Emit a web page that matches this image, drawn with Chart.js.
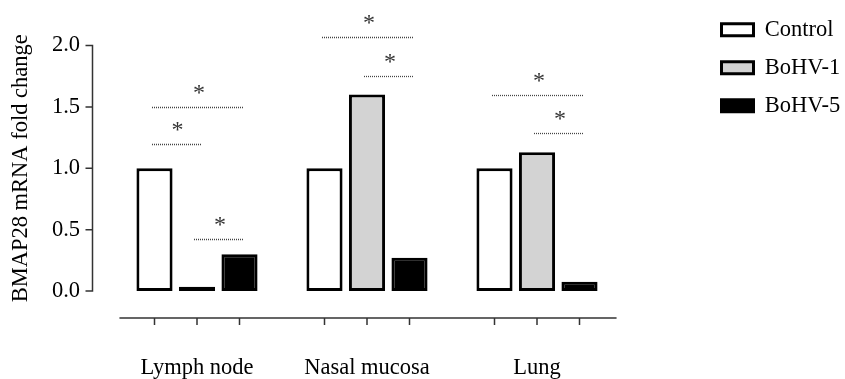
<!DOCTYPE html>
<html lang="en">
<head>
<meta charset="UTF-8">
<title>BMAP28 mRNA fold change</title>
<script src="https://cdn.jsdelivr.net/npm/chart.js"></script>
<style>
  body { margin: 0; background: #fff; }
</style>
</head>
<body>
<canvas id="bmap" width="845" height="379"></canvas>
<script>
// tissues and fold change per group
var tissues = ['Lymph node', 'Nasal mucosa', 'Lung'];
var control = [1.0, 1.0, 1.0];
var bohv1 = [0.035, 1.6, 1.13];
var bohv5 = [0.3, 0.27, 0.075];

// significance brackets: tissue index, from group, to group, height
var sigTissue = [0, 0, 0, 1, 1, 2, 2];
var sigFrom = [0, 0, 1, 0, 1, 0, 1];
var sigTo = [2, 1, 2, 2, 2, 2, 2];
var sigLevel = [1.5, 1.2, 0.42, 2.07, 1.75, 1.6, 1.285];

var serif = '"Liberation Serif", "Times New Roman", serif';
var axisColor = '#333';

// prism style axes + stars, drawn from the chart scales
var prismAxes = {
    id: 'prismAxes',
    afterDatasetsDraw: function (chart) {
        var ctx = chart.ctx;
        var y = chart.scales.y;
        var area = chart.chartArea;
        ctx.save();
        ctx.strokeStyle = axisColor;
        ctx.lineWidth = 1.5;

        // y axis, offset to the left
        var ax = area.left - 19.5;
        ctx.beginPath();
        ctx.moveTo(ax, y.getPixelForValue(2));
        ctx.lineTo(ax, y.getPixelForValue(0));
        y.ticks.forEach(function (t) {
            var py = y.getPixelForValue(t.value);
            ctx.moveTo(ax - 7, py);
            ctx.lineTo(ax + 0.75, py);
        });
        ctx.stroke();

        // x axis, offset below with a tick under every bar
        var first = chart.getDatasetMeta(0).data[0];
        var last = chart.getDatasetMeta(2).data[tissues.length - 1];
        var by = area.bottom + 27;
        ctx.beginPath();
        ctx.moveTo(first.x - first.width / 2 - 17, by);
        ctx.lineTo(last.x + last.width / 2 + 19, by);
        for (var d = 0; d < 3; d++) {
            chart.getDatasetMeta(d).data.forEach(function (bar) {
                ctx.moveTo(bar.x, by);
                ctx.lineTo(bar.x, by + 7);
            });
        }
        ctx.stroke();

        // dotted significance lines with asterisks
        ctx.strokeStyle = '#444';
        ctx.lineWidth = 1.3;
        ctx.setLineDash([1, 1]);
        ctx.fillStyle = '#333';
        ctx.font = '24px ' + serif;
        ctx.textAlign = 'center';
        ctx.textBaseline = 'alphabetic';
        for (var i = 0; i < sigLevel.length; i++) {
            var x1 = Math.round(chart.getDatasetMeta(sigFrom[i]).data[sigTissue[i]].x - 3);
            var x2 = Math.round(chart.getDatasetMeta(sigTo[i]).data[sigTissue[i]].x + 4);
            var ly = Math.round(y.getPixelForValue(sigLevel[i])) + 0.5;
            ctx.beginPath();
            ctx.moveTo(x1, ly);
            ctx.lineTo(x2, ly);
            ctx.stroke();
            ctx.fillText('*', (x1 + x2) / 2 + 1, ly - 8);
        }
        ctx.restore();
    }
};

var context = document.getElementById('bmap').getContext('2d');
var bmapChart = new Chart(context, {
    type: 'bar',
    data: {
        labels: tissues,
        datasets: [
            { label: 'Control', data: control, backgroundColor: '#ffffff' },
            { label: 'BoHV-1', data: bohv1, backgroundColor: '#d3d3d3' },
            { label: 'BoHV-5', data: bohv5, backgroundColor: '#000000' }
        ].map(function (ds) {
            ds.borderColor = '#000';
            ds.borderWidth = 3;
            ds.borderSkipped = false;
            ds.categoryPercentage = 0.75;
            ds.barPercentage = 0.85;
            ds.xAxisID = 'x';
            ds.yAxisID = 'y';
            return ds;
        })
    },
    options: {
        responsive: false,
        animation: false,
        layout: { padding: { top: 3, right: 0, bottom: 0, left: 0 } },
        plugins: {
            tooltip: { enabled: false },
            legend: {
                position: 'right',
                align: 'start',
                maxWidth: 139,
                labels: {
                    boxWidth: 32,
                    boxHeight: 12,
                    padding: 15.5,
                    color: '#000',
                    font: { family: serif, size: 22.5 }
                }
            }
        },
        scales: {
            x: {
                type: 'category',
                position: 'bottom',
                grid: { display: false, drawTicks: false },
                border: { display: false },
                ticks: { color: '#000', padding: 64, font: { family: serif, size: 22.5 } },
                afterFit: function (s) { s.height = 88; }
            },
            y: {
                position: 'left',
                min: 0,
                max: 2,
                grid: { display: false, drawTicks: false },
                border: { display: false },
                ticks: {
                    stepSize: 0.5,
                    padding: 32,
                    color: '#000',
                    font: { family: serif, size: 22.5 },
                    callback: function (v) { return v.toFixed(1); }
                },
                title: {
                    display: true,
                    text: 'BMAP28 mRNA fold change',
                    color: '#000',
                    padding: { top: 8, bottom: 0 },
                    font: { family: serif, size: 22.5 }
                },
                afterFit: function (s) { s.width = 112; }
            },
            // spacers so the plot sits where the original has it
            padTop: {
                type: 'linear',
                position: 'top',
                grid: { display: false },
                border: { display: false },
                ticks: { display: false },
                afterFit: function (s) { s.height = 39; }
            },
            padRight: {
                type: 'linear',
                position: 'right',
                grid: { display: false },
                border: { display: false },
                ticks: { display: false },
                afterFit: function (s) { s.width = 84; }
            }
        }
    },
    plugins: [prismAxes]
});
</script>
</body>
</html>
